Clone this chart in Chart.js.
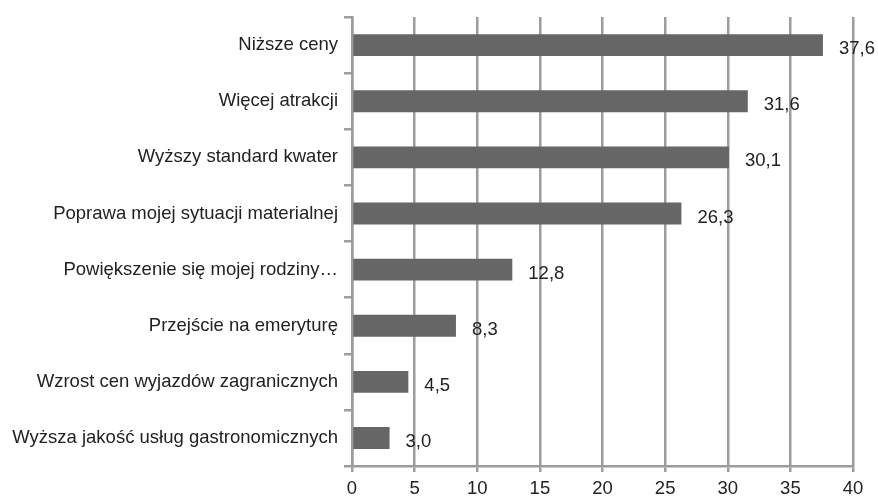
<!DOCTYPE html>
<html>
<head>
<meta charset="utf-8">
<script src="https://cdn.jsdelivr.net/npm/chart.js@4.4.0/dist/chart.umd.min.js"></script>
<style>
    html, body { margin: 0; padding: 0; background: #fff; }
    #wrap { width: 878px; height: 498px; }
</style>
</head>
<body>
<div id="wrap"><canvas id="barChart" width="878" height="498"></canvas></div>
<script>
const labels = [
    "Niższe ceny",
    "Więcej atrakcji",
    "Wyższy standard kwater",
    "Poprawa mojej sytuacji materialnej",
    "Powiększenie się mojej rodziny…",
    "Przejście na emeryturę",
    "Wzrost cen wyjazdów zagranicznych",
    "Wyższa jakość usług gastronomicznych"
];
const values = [37.6, 31.6, 30.1, 26.3, 12.8, 8.3, 4.5, 3.0];
const xTicks = [0, 5, 10, 15, 20, 25, 30, 35, 40];

const gridColor = "#9c9c9c";
const textColor = "#222222";
const fontFamily = "'Liberation Sans', Arial, sans-serif";

// values drawn after each bar, with a comma decimal
const valueLabels = {
    id: "valueLabels",
    afterDatasetsDraw(chart) {
        const c = chart.ctx;
        const meta = chart.getDatasetMeta(0);
        c.save();
        c.font = "18.5px " + fontFamily;
        c.fillStyle = textColor;
        c.textAlign = "left";
        c.textBaseline = "middle";
        meta.data.forEach((bar, i) => {
            const txt = values[i].toFixed(1).replace(".", ",");
            c.fillText(txt, bar.x + 16, bar.y + 4);
        });
        c.restore();
    }
};

const ctx = document.getElementById("barChart").getContext("2d");

new Chart(ctx, {
    type: "bar",
    data: {
        labels: labels,
        datasets: [{
            data: values,
            backgroundColor: "#666666",
            borderWidth: 0,
            barPercentage: 0.39,
            categoryPercentage: 1.0
        }]
    },
    options: {
        indexAxis: "y",
        responsive: false,
        animation: false,
        layout: { padding: { top: 15, right: 25, left: 0, bottom: 0 } },
        plugins: {
            legend: { display: false },
            tooltip: { enabled: false }
        },
        scales: {
            x: {
                min: 0,
                max: 40,
                afterBuildTicks: scale => {
                    scale.ticks = xTicks.map(v => ({ value: v }));
                },
                afterFit: scale => { scale.height = 32; },
                grid: {
                    color: gridColor,
                    lineWidth: 2.5,
                    tickLength: 6,
                    drawOnChartArea: true
                },
                border: { color: gridColor, width: 2.5 },
                ticks: {
                    color: textColor,
                    padding: 6,
                    font: { family: fontFamily, size: 18.5 }
                }
            },
            y: {
                afterFit: scale => { scale.width = 352; },
                grid: {
                    color: gridColor,
                    lineWidth: 2.5,
                    tickLength: 8,
                    offset: true,
                    drawOnChartArea: false
                },
                border: { color: gridColor, width: 2.5 },
                ticks: {
                    color: textColor,
                    padding: 6,
                    font: { family: fontFamily, size: 18.5 }
                }
            }
        }
    },
    plugins: [valueLabels]
});
</script>
</body>
</html>
